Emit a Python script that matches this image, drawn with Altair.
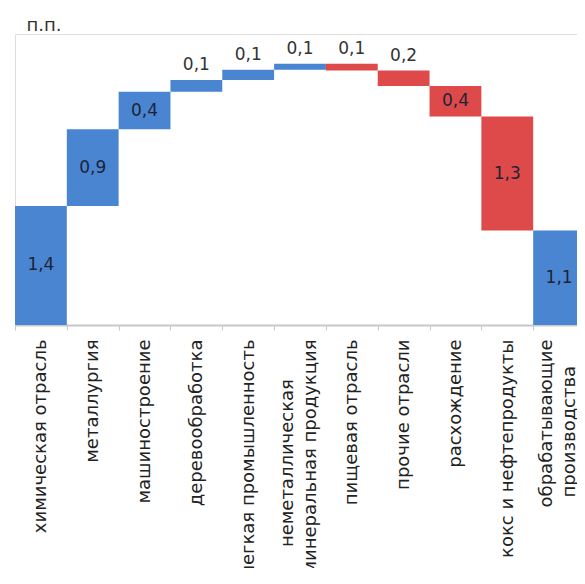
import altair as alt
import pandas as pd

# ---- data ----
categories = [
    "химическая отрасль",
    "металлургия",
    "машиностроение",
    "деревообработка",
    "легкая промышленность",
    "неметаллическая\nминеральная продукция",
    "пищевая отрасль",
    "прочие отрасли",
    "расхождение",
    "кокс и нефтепродукты",
]
contributions = [1.40, 0.90, 0.44, 0.14, 0.12, 0.07, -0.08, -0.18, -0.36, -1.34]
total_name = "обрабатывающие\nпроизводства"
unit_title = "п.п."

# ---- styling ----
BLUE = "#4a85d2"
RED = "#de4a4a"
FONT = "DejaVu Sans"
PADCH = "\u2800"  # blank glyph used to centre the shorter line of two-line labels
LINE_PAD = {
    "неметаллическая\nминеральная продукция": (3, 0),
    "обрабатывающие\nпроизводства": (0, 2),
}


def axis_text(name):
    pad = LINE_PAD.get(name)
    if not pad:
        return name
    lines = name.split("\n")
    return "\n".join(l + PADCH * p for l, p in zip(lines, pad))


rows = []
cum = 0.0
for name, v in zip(categories, contributions):
    start, end = cum, cum + v
    cum = end
    rows.append(dict(cat=axis_text(name), start=start, end=end, v=v,
                     kind="pos" if v >= 0 else "neg"))
rows.append(dict(cat=axis_text(total_name), start=0.0, end=cum, v=cum, kind="total"))

df = pd.DataFrame(rows)
df["label"] = df["v"].abs().map(lambda x: f"{x:.1f}".replace(".", ","))
df["inside"] = (df["end"] - df["start"]).abs() >= 0.3
df["mid"] = (df["start"] + df["end"]) / 2
df["top"] = df[["start", "end"]].max(axis=1)

order = list(df["cat"])

x_enc = alt.X(
    "cat:N",
    sort=order,
    scale=alt.Scale(paddingInner=0, paddingOuter=0),
    axis=alt.Axis(
        title=None,
        labelAngle=-90,
        labelAlign="right",
        labelBaseline="middle",
        labelExpr="split(datum.label, '\\n')",
        labelFont=FONT,
        labelFontSize=18,
        labelColor="#222222",
        labelLineHeight=23,
        labelPadding=9,
        labelLimit=0,
        labelOffset={"condition": {"test": "indexof(datum.label, '\\n') >= 0", "value": -12.5},
                     "value": 0},
        tickBand="extent",
        tickSize=5,
        tickColor="#c8c8c8",
        domainColor="#c8c8c8",
        domainWidth=2,
        grid=False,
    ),
)
y_scale = alt.Scale(domain=[0, 3.42], nice=False, zero=True)

base = alt.Chart(df)

bars = base.mark_bar().encode(
    x=x_enc,
    y=alt.Y("start:Q", scale=y_scale, axis=None),
    y2="end:Q",
    color=alt.Color("kind:N", scale=alt.Scale(domain=["pos", "neg", "total"],
                                              range=[BLUE, RED, BLUE]), legend=None),
)

inside_text = base.transform_filter("datum.inside").mark_text(
    font=FONT, fontSize=17, color="#1c2436", baseline="middle"
).encode(x=x_enc, y=alt.Y("mid:Q", scale=y_scale, axis=None), text="label:N")

outside_text = base.transform_filter("!datum.inside").mark_text(
    font=FONT, fontSize=17, color="#333333", baseline="bottom", dy=-6
).encode(x=x_enc, y=alt.Y("top:Q", scale=y_scale, axis=None), text="label:N")

chart = (
    alt.layer(bars, inside_text, outside_text)
    .properties(
        width=570,
        height=291,
        padding={"left": 7, "right": -8, "top": 26, "bottom": 243},
        autosize=alt.AutoSizeParams(type="none"),
        title=alt.TitleParams(unit_title, anchor="start", frame="group", font=FONT,
                              fontSize=18, fontWeight="normal", color="#333333",
                              dx=11.5, dy=3, offset=2),
    )
    .configure_view(strokeWidth=0)
    .configure(background="white")
)

chart.save("out.html", embed_options={"renderer": "svg", "actions": False})
